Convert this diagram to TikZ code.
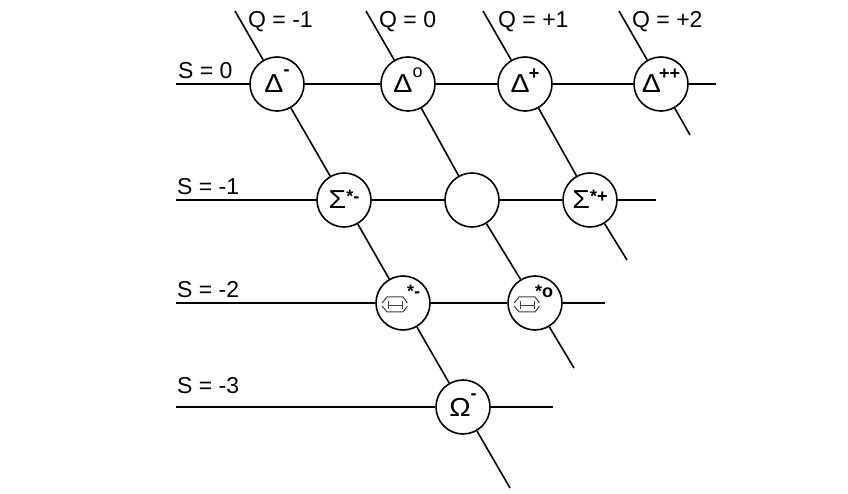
\documentclass[tikz,border=0pt]{standalone}
\usepackage{fontspec}
\setmainfont{Liberation Sans}
\newcommand{\gsym}[3]{\scalebox{1.1}[1]{#1}\raisebox{#2}[0pt][0pt]{\fontsize{18}{18}\selectfont #3}}
\begin{document}
\begin{tikzpicture}[x=1pt,y=-1pt,
  ln/.style={line width=1.6pt},
  particle/.style={circle,draw,line width=1.6pt,fill=white,minimum size=54pt,inner sep=0pt,font=\fontsize{26}{26}\selectfont},
  lbl/.style={anchor=base west,inner sep=0pt,font=\fontsize{23}{23}\selectfont},
  xsup/.style={anchor=base west,inner sep=0pt,font=\fontsize{18}{18}\selectfont\bfseries},
  xi/.style={line width=1pt,black!75}]
\useasboundingbox (0,0) rectangle (848,494);

% particles
\node[particle] (dm)  at (277,84) {\gsym{Δ}{17pt}{\bfseries -}};
\node[particle] (d0)  at (408,84) {\gsym{Δ}{15pt}{o}};
\node[particle] (dp)  at (525,84) {\gsym{Δ}{13pt}{\kern-1pt\bfseries +}};
\node[particle] (dpp) at (661,84) {\gsym{Δ}{13pt}{\kern-2pt\bfseries ++}};
\node[particle] (sm)  at (344,200) {\gsym{Σ}{6pt}{\bfseries *-}};
\node[particle] (s0)  at (472,200) {};
\node[particle] (sp)  at (590,200) {\gsym{Σ}{6pt}{\bfseries *+}};
\node[particle] (xm)  at (403,303) {};
\node[particle] (x0)  at (535,303) {};
\node[particle] (om)  at (463,407) {\gsym{Ω}{17pt}{\bfseries -}};

% Xi glyphs
\foreach \n in {xm,x0}{
  \begin{scope}[shift={(\n.center)},shift={(-8,2)},scale=1.2,shift={(8,-2)}]
  \draw[xi] (-18.7,0.3) -- (-14.7,-4.7) -- (-1.3,-4.7) -- (2.3,0.3);
  \draw[xi] (-18.7,3) -- (-14.7,7.7) -- (-1.3,7.7) -- (2.3,3);
  \draw[xi] (-13.7,-1.3) -- (-13.7,5.3) (-2,-1.3) -- (-2,5.3) (-13.7,2) -- (-2,2);
  \end{scope}
}
\node[xsup] (xmsup) at ([shift={(4,-6)}]xm.center) {*-};
\node[xsup] (x0sup) at ([shift={(0,-6)}]x0.center) {*o};

% line ends
\coordinate (qa1) at (235,11);  \coordinate (qa2) at (510,488);
\coordinate (qb1) at (366,11);  \coordinate (qb2) at (574,368);
\coordinate (qc1) at (483,11);  \coordinate (qc2) at (627,260);
\coordinate (qd1) at (619,11);  \coordinate (qd2) at (690,135);
\coordinate (sa1) at (176,84);  \coordinate (sa2) at (716,84);
\coordinate (sb1) at (176,200); \coordinate (sb2) at (656,200);
\coordinate (sc1) at (176,303); \coordinate (sc2) at (605,303);
\coordinate (sd1) at (176,407); \coordinate (sd2) at (553,407);

% charge lines
\draw[ln] (qa1) -- (dm) -- (sm) -- (xm) -- (om) -- (qa2);
\draw[ln] (qb1) -- (d0) -- (s0) -- (x0) -- (qb2);
\draw[ln] (qc1) -- (dp) -- (sp) -- (qc2);
\draw[ln] (qd1) -- (dpp) -- (qd2);
% strangeness lines
\draw[ln] (sa1) -- (dm) -- (d0) -- (dp) -- (dpp) -- (sa2);
\draw[ln] (sb1) -- (sm) -- (s0) -- (sp) -- (sb2);
\draw[ln] (sc1) -- (xm) -- (x0) -- (sc2);
\draw[ln] (sd1) -- (om) -- (sd2);

% labels
\node[lbl] (s0l) at (178,79)  {S = 0};
\node[lbl] (s1l) at (177,195) {S = -1};
\node[lbl] (s2l) at (177,298) {S = -2};
\node[lbl] (s3l) at (177,393) {S = -3};
\node[lbl] (qal) at (248,28) {Q = -1};
\node[lbl] (qbl) at (379,28) {Q = 0};
\node[lbl] (qcl) at (498,28) {Q = +1};
\node[lbl] (qdl) at (632,28) {Q = +2};
\end{tikzpicture}
\end{document}
